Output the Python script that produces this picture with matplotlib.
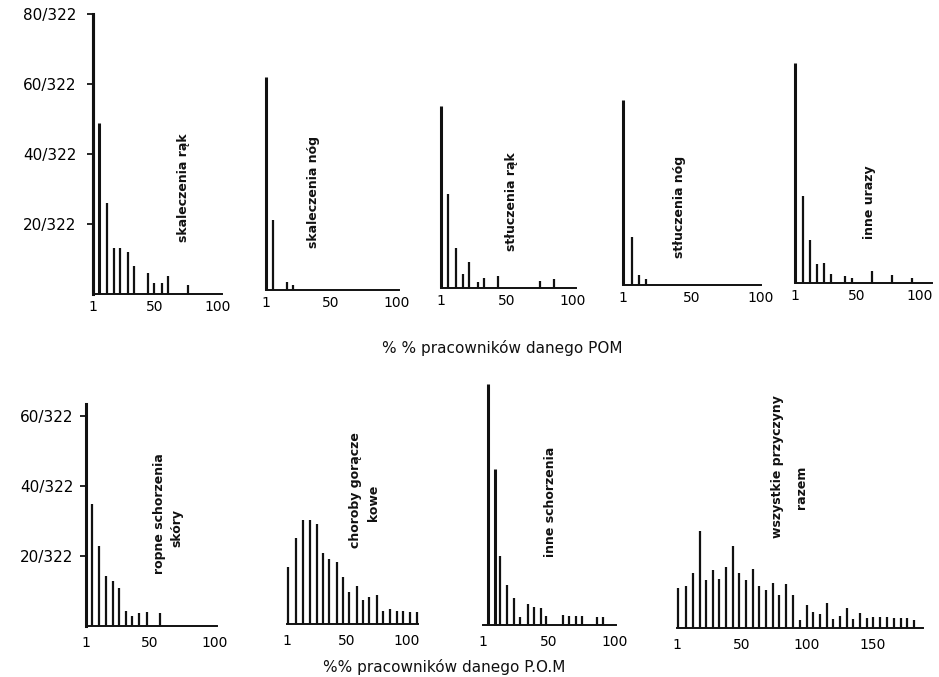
import matplotlib
matplotlib.use("Agg")
import matplotlib.pyplot as plt

W, H = 939, 677
PX = 3.5          # pixels per 1/322 on every panel
INK = "#111111"

# ---- data: bar position (% of workers), height (cases / 322)
skal_rak_x = [1, 6, 12, 17.5, 22.5, 28.5, 33.5, 44.5, 49, 55.5, 60.5, 76]
skal_rak_y = [80, 49, 26, 13, 13, 12, 8, 6, 3, 3, 5, 2.5]

skal_nog_x = [1, 6, 16.5, 21.5]
skal_nog_y = [61, 20, 2.3, 1.5]

stl_rak_x = [1, 6.5, 12, 17.3, 22.2, 28.5, 33.3, 44, 75.3, 86]
stl_rak_y = [52, 27, 11.4, 4, 7.4, 1.7, 2.9, 3.3, 2, 2.6]

stl_nog_x = [1, 7.2, 12.7, 17.3]
stl_nog_y = [53, 13.7, 2.9, 1.7]

inne_ur_x = [1, 7, 13, 18.7, 24, 29.5, 40.6, 46, 61.7, 77.6, 93.4]
inne_ur_y = [63, 25, 12.3, 5.4, 5.7, 2.6, 2, 1.4, 3.4, 2.3, 1.5]

ropne_x = [5.9, 10.7, 16.3, 21.5, 26.6, 31.5, 36.6, 41.7, 47.6, 57.8]
ropne_y = [35, 22.8, 14.3, 13, 11, 4.3, 2.9, 3.7, 4, 3.7]

gor_x = [2.1, 8.2, 13.9, 19.9, 25.5, 30.4, 35.9, 42, 46.9, 52.4,
         58.5, 63.4, 68.9, 75, 80, 86, 91.5, 97, 102.5, 108]
gor_y = [16.3, 24.6, 29.7, 29.7, 28.5, 20.2, 18.5, 17.8, 13.3, 9.2,
         10.8, 6.9, 7.8, 8.2, 3.8, 4.2, 3.8, 3.8, 3.5, 3.5]

inne_sch_x = [4.9, 9.9, 14.1, 19, 23.9, 28.8, 34.5, 39.4, 44.4, 48.5,
              60.8, 65.8, 70.7, 75.6, 86.2, 91.1]
inne_sch_y = [69, 44.6, 19.7, 11.4, 7.8, 2.3, 6, 5.2, 4.8, 2.6,
              2.9, 2.6, 2.6, 2.6, 2.3, 2.3]

razem_x = [2, 7.6, 13, 18.5, 23.1, 28.2, 33, 38.3, 43.4, 48.4, 53.6, 58.7,
           63.7, 68.8, 73.9, 78.9, 84, 89.1, 94.7, 99.8, 104.8, 109.9, 115, 120,
           125.1, 130.2, 135.3, 140.4, 145.5, 150.5, 155.6, 161.2, 166.3, 171.4,
           176.4, 181.7]
razem_y = [11.4, 11.9, 15.6, 27.7, 13.7, 16.6, 14, 17.4, 23.4, 15.6, 13.7, 17,
           11.9, 11, 13, 9.5, 12.6, 9.5, 2.4, 6.6, 4.6, 4, 7.1, 2.6,
           3.4, 5.7, 2.6, 4.3, 2.9, 3.1, 3.1, 3.1, 2.9, 2.9, 2.9, 2.4]

labels = [["skaleczenia rąk"], ["skaleczenia nóg"], ["stłuczenia rąk"], ["stłuczenia nóg"],
          ["inne urazy"], ["ropne schorzenia", "skóry"], ["choroby gorącze", "kowe"],
          ["inne schorzenia"], ["wszystkie przyczyny", "razem"]]
ytick_vals = [20, 40, 60, 80]
ytick_text = ["20/322", "40/322", "60/322", "80/322"]

# ---- layout in pixels: x of "1", x of "100", right end (data), baseline y, label line centres
layout = [
    (93, 218, 103, 294, [(183, 188)], skal_rak_x, skal_rak_y),
    (266, 397, 101.5, 290, [(313, 192)], skal_nog_x, skal_nog_y),
    (441, 573, 102, 288, [(512, 202)], stl_rak_x, stl_rak_y),
    (623, 761, 100, 285, [(680, 207)], stl_nog_x, stl_nog_y),
    (795, 920, 109.5, 283, [(870, 202)], inne_ur_x, inne_ur_y),
    (86, 215, 101.5, 626, [(160, 514), (177, 528)], ropne_x, ropne_y),
    (287, 407, 109, 624, [(355, 490), (373, 503)], gor_x, gor_y),
    (483, 615, 100.7, 625, [(550, 502)], inne_sch_x, inne_sch_y),
    (677, 807, 188, 628, [(778, 467), (802, 487)], razem_x, razem_y),
]

plt.rcParams["font.family"] = "DejaVu Sans"
fig = plt.figure(figsize=(W / 100, H / 100), dpi=100)
fig.patch.set_facecolor("white")

for i, (x1, x100, xend, base, lpos, xs, ys) in enumerate(layout):
    top = 85 if i < 5 else 70
    sc = (x100 - x1) / 99.0
    right = x1 + (xend - 1) * sc
    ax = fig.add_axes([x1 / W, (H - base) / H, (right - x1) / W, top * PX / H])
    ax.set_xlim(1, xend)
    ax.set_ylim(0, top)
    ax.patch.set_visible(False)
    for s in ("top", "right"):
        ax.spines[s].set_visible(False)
    ax.spines["bottom"].set_linewidth(1.4)
    ax.spines["bottom"].set_color(INK)
    lw = [2.2 if y > 40 else 1.6 for y in ys]
    ax.vlines(xs, 0, ys, colors=INK, linewidth=lw, clip_on=False)
    ticks = [1, 50, 100] if i < 8 else [1, 50, 100, 150]
    ax.set_xticks(ticks)
    ax.set_xticklabels([str(t) for t in ticks], fontsize=10)
    ax.tick_params(axis="x", length=0, pad=4 if i < 5 else 7)
    if i in (0, 5):
        ymax = 80 if i == 0 else 63.5
        ax.spines["left"].set_bounds(0, ymax)
        ax.spines["left"].set_linewidth(2.2)
        ax.spines["left"].set_color(INK)
        n = 4 if i == 0 else 3
        ax.set_yticks(ytick_vals[:n])
        ax.set_yticklabels(ytick_text[:n], fontsize=11)
        ax.tick_params(axis="y", length=4, width=1.2, pad=8 if i == 0 else 5)
    else:
        ax.spines["left"].set_visible(False)
        ax.set_yticks([])
    for line, (lx, ly) in zip(labels[i], lpos):
        fig.text(lx / W, 1 - ly / H, line, rotation=90, ha="center", va="center",
                 fontsize=9, fontweight="bold", color=INK)

fig.text(502 / W, 1 - 348 / H, "% % pracowników danego POM", ha="center", va="center",
         fontsize=11, color=INK)
fig.text(444 / W, 1 - 667 / H, "%% pracowników danego P.O.M", ha="center", va="center",
         fontsize=11, color=INK)

fig.savefig("out.png", dpi=100)
